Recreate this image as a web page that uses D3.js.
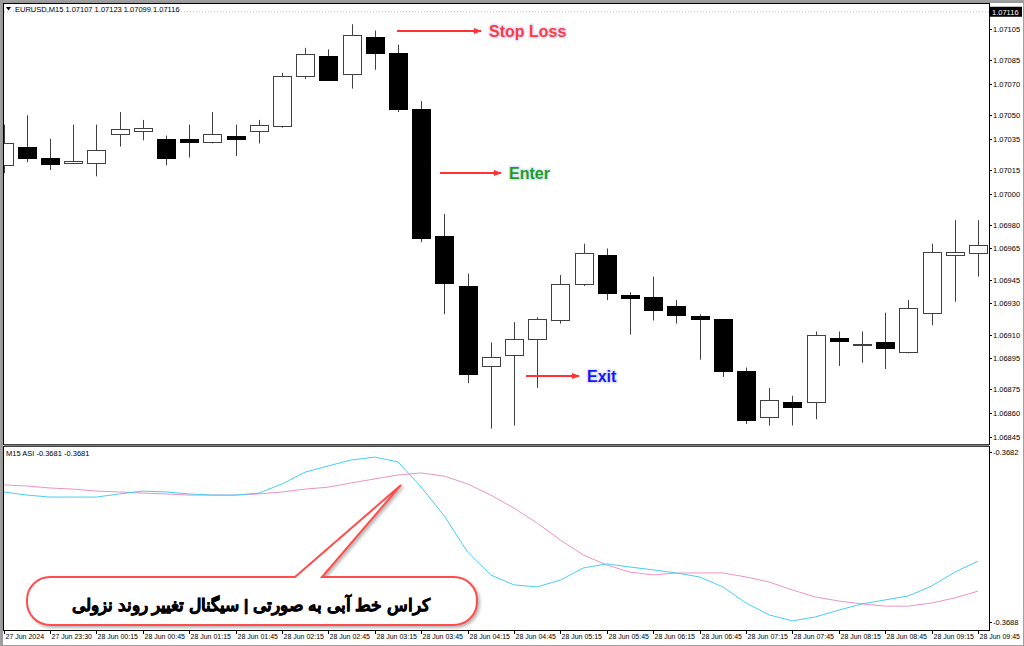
<!DOCTYPE html>
<html>
<head>
<meta charset="utf-8">
<script src="https://cdn.jsdelivr.net/npm/d3@7"></script>
<style>
  body { margin: 0; background: #fff; }
  svg { display: block; }
  text { font-family: "Liberation Sans", Arial, sans-serif; }
</style>
</head>
<body>
<svg width="1024" height="646"></svg>
<script>
// ---- data ----
const openP  = [1.07018,1.07030,1.07023,1.07020,1.07020,1.07038,1.07040,1.07035,1.07035,1.07033,1.07037,1.07040,1.07043,1.07075,1.07088,1.07076,1.07100,1.07090,1.07054,1.06973,1.06941,1.06890,1.06897,1.06907,1.06919,1.06942,1.06961,1.06935,1.06934,1.06928,1.06922,1.06920,1.06887,1.06857,1.06867,1.06867,1.06908,1.06904,1.06905,1.06899,1.06924,1.06961,1.06962];
const highP  = [1.07044,1.07050,1.07035,1.07044,1.07044,1.07052,1.07047,1.07037,1.07044,1.07052,1.07044,1.07047,1.07077,1.07093,1.07092,1.07108,1.07104,1.07095,1.07059,1.06987,1.06949,1.06905,1.06918,1.06921,1.06948,1.06968,1.06965,1.06937,1.06947,1.06932,1.06923,1.06920,1.06889,1.06876,1.06871,1.06912,1.06912,1.06912,1.06924,1.06932,1.06968,1.06983,1.06983];
const lowP   = [1.07013,1.07020,1.07015,1.07019,1.07011,1.07030,1.07034,1.07018,1.07023,1.07032,1.07024,1.07032,1.07042,1.07073,1.07073,1.07067,1.07079,1.07052,1.06969,1.06923,1.06879,1.06850,1.06852,1.06876,1.06917,1.06941,1.06932,1.06910,1.06919,1.06917,1.06894,1.06883,1.06853,1.06852,1.06852,1.06856,1.06890,1.06892,1.06888,1.06898,1.06916,1.06931,1.06947];
const closeP = [1.07032,1.07023,1.07019,1.07021,1.07028,1.07041,1.07042,1.07023,1.07033,1.07038,1.07035,1.07044,1.07075,1.07089,1.07073,1.07101,1.07090,1.07054,1.06972,1.06943,1.06885,1.06896,1.06907,1.06920,1.06942,1.06962,1.06937,1.06933,1.06926,1.06922,1.06920,1.06887,1.06856,1.06868,1.06864,1.06910,1.06906,1.06904,1.06901,1.06927,1.06963,1.06963,1.06967];

const asiBlue = [-0.368341,-0.368352,-0.368359,-0.368359,-0.368359,-0.368348,-0.368338,-0.368341,-0.368348,-0.368352,-0.368352,-0.368345,-0.368313,-0.368271,-0.368249,-0.368228,-0.368218,-0.368235,-0.368324,-0.368426,-0.368553,-0.368634,-0.368669,-0.368676,-0.368652,-0.368609,-0.368595,-0.368606,-0.368616,-0.368627,-0.368641,-0.368676,-0.368733,-0.368775,-0.368796,-0.368782,-0.368758,-0.368736,-0.368722,-0.368708,-0.368673,-0.368624,-0.368585];
const asiPink = [-0.368316,-0.368320,-0.368327,-0.368331,-0.368338,-0.368341,-0.368345,-0.368348,-0.368352,-0.368352,-0.368352,-0.368348,-0.368341,-0.368331,-0.368324,-0.368309,-0.368295,-0.368281,-0.368274,-0.368285,-0.368313,-0.368352,-0.368398,-0.368451,-0.368511,-0.368564,-0.368599,-0.368624,-0.368634,-0.368627,-0.368627,-0.368627,-0.368641,-0.368659,-0.368687,-0.368712,-0.368726,-0.368736,-0.368744,-0.368744,-0.368733,-0.368715,-0.368691];

const priceTicks = [1.07105,1.07085,1.07070,1.07050,1.07035,1.07015,1.07000,1.06980,1.06965,1.06945,1.06930,1.06910,1.06895,1.06875,1.06860,1.06845];
const asiTicks = [-0.3682, -0.3688];
const timeLabels = ["27 Jun 2024","27 Jun 23:30","28 Jun 00:15","28 Jun 00:45","28 Jun 01:15","28 Jun 01:45","28 Jun 02:15","28 Jun 02:45","28 Jun 03:15","28 Jun 03:45","28 Jun 04:15","28 Jun 04:45","28 Jun 05:15","28 Jun 05:45","28 Jun 06:15","28 Jun 06:45","28 Jun 07:15","28 Jun 07:45","28 Jun 08:15","28 Jun 08:45","28 Jun 09:15","28 Jun 09:45"];
const lastPrice = 1.07116;
const header = "EURUSD,M15  1.07107 1.07123 1.07099 1.07116";
const subHeader = "M15  ASI  -0.3681 -0.3681";
const calloutText = "کراس خط آبی به صورتی | سیگنال تغییر روند نزولی";

// ---- layout ----
const left = 4, right = 989;
const mainTop = 4, mainBottom = 444;
const subTop = 447, subBottom = 630;

const svg = d3.select("svg");

const x = d3.scaleLinear().domain([0, 42]).range([3.6, 978]);
const y = d3.scaleLinear().domain([1.06845, 1.07105]).range([436.5, 29]);
const ySub = d3.scaleLinear().domain([-0.3688, -0.3682]).range([622, 452]);
const bodyW = 18;

const defs = svg.append("defs");
defs.append("clipPath").attr("id", "mainClip")
  .append("rect").attr("x", left).attr("y", mainTop).attr("width", right - left).attr("height", mainBottom - mainTop);
defs.append("clipPath").attr("id", "subClip")
  .append("rect").attr("x", left).attr("y", subTop).attr("width", right - left).attr("height", subBottom - subTop);
defs.append("marker").attr("id", "arrow").attr("viewBox", "0 0 10 10")
  .attr("refX", 9).attr("refY", 5).attr("markerWidth", 4).attr("markerHeight", 4)
  .attr("orient", "auto")
  .append("path").attr("d", "M0,1 L10,5 L0,9 Z").attr("fill", "#ff3333");
const sh = defs.append("filter").attr("id", "shadow").attr("x", "-10%").attr("y", "-30%").attr("width", "120%").attr("height", "160%");
sh.append("feDropShadow").attr("dx", 2).attr("dy", 2).attr("stdDeviation", 1.5).attr("flood-color", "#888").attr("flood-opacity", 0.6);

// outer window frame
svg.append("rect").attr("x", 0.5).attr("y", 0.5).attr("width", 1023).attr("height", 645)
  .attr("fill", "#fff").attr("stroke", "#a0a0a0");
svg.append("line").attr("x1", 0).attr("x2", 1024).attr("y1", 2).attr("y2", 2).attr("stroke", "#9a9a9a").attr("stroke-width", 2);
svg.append("line").attr("x1", 2).attr("x2", 2).attr("y1", 0).attr("y2", 646).attr("stroke", "#9a9a9a").attr("stroke-width", 2);

// panels
svg.append("rect").attr("x", left - 0.5).attr("y", mainTop - 0.5).attr("width", right - left + 1).attr("height", mainBottom - mainTop + 1)
  .attr("fill", "#fff").attr("stroke", "#000");
svg.append("rect").attr("x", left - 0.5).attr("y", subTop - 0.5).attr("width", right - left + 1).attr("height", subBottom - subTop + 1)
  .attr("fill", "#fff").attr("stroke", "#000");
svg.append("line").attr("x1", left).attr("x2", right).attr("y1", 445.5).attr("y2", 445.5).attr("stroke", "#808080").attr("stroke-width", 2);

// current price dotted line
svg.append("line").attr("x1", left).attr("x2", right).attr("y1", y(lastPrice)).attr("y2", y(lastPrice))
  .attr("stroke", "#b8b8c8").attr("stroke-dasharray", "1,2");

// header texts
svg.append("path").attr("d", "M6,7 L11,7 L8.5,10.5 Z").attr("fill", "#000");
svg.append("text").attr("x", 15).attr("y", 12).attr("font-size", 7.5).attr("fill", "#000").text(header);
svg.append("text").attr("x", 6).attr("y", 456).attr("font-size", 7.5).attr("fill", "#000").text(subHeader);

// price axis
const pAxis = svg.append("g");
priceTicks.forEach(function(p) {
  pAxis.append("line").attr("x1", right).attr("x2", right + 3).attr("y1", Math.round(y(p)) + 0.5).attr("y2", Math.round(y(p)) + 0.5).attr("stroke", "#000");
  pAxis.append("text").attr("x", 993).attr("y", y(p) + 3).attr("font-size", 7.5).text(p.toFixed(5));
});
pAxis.append("rect").attr("x", 990).attr("y", y(lastPrice) - 5).attr("width", 32).attr("height", 10).attr("fill", "#000");
pAxis.append("text").attr("x", 992).attr("y", y(lastPrice) + 3).attr("font-size", 7.5).attr("fill", "#fff").text(lastPrice.toFixed(5));

asiTicks.forEach(function(v) {
  pAxis.append("line").attr("x1", right).attr("x2", right + 3).attr("y1", Math.round(ySub(v)) + 0.5).attr("y2", Math.round(ySub(v)) + 0.5).attr("stroke", "#000");
  pAxis.append("text").attr("x", 993).attr("y", ySub(v) + 3).attr("font-size", 7.5).text(v.toFixed(4));
});

// time axis
timeLabels.forEach(function(t, k) {
  const tx = Math.round(x(k * 2)) + 0.5;
  svg.append("line").attr("x1", tx).attr("x2", tx).attr("y1", subBottom).attr("y2", subBottom + 4).attr("stroke", "#000");
  svg.append("text").attr("x", tx + 1).attr("y", 639).attr("font-size", 7).text(t);
});

// candles
const candles = openP.map(function(o, i) {
  return { i: i, o: o, h: highP[i], l: lowP[i], c: closeP[i] };
});
const cg = svg.append("g").attr("clip-path", "url(#mainClip)");
cg.selectAll(".wick").data(candles).enter().append("line")
  .attr("x1", d => Math.round(x(d.i)) + 0.5).attr("x2", d => Math.round(x(d.i)) + 0.5)
  .attr("y1", d => y(d.h)).attr("y2", d => y(d.l))
  .attr("stroke", "#404040").attr("stroke-width", 1);
cg.selectAll(".body").data(candles).enter().append("rect")
  .attr("x", d => Math.round(x(d.i) - bodyW / 2) + 0.5)
  .attr("y", d => Math.round(y(Math.max(d.o, d.c))) + 0.5)
  .attr("width", bodyW)
  .attr("height", d => Math.max(1, Math.round(Math.abs(y(d.o) - y(d.c)))))
  .attr("fill", d => d.c < d.o ? "#000" : "#fff")
  .attr("stroke", d => d.c < d.o ? "#000" : "#404040")
  .attr("stroke-width", 1);

// ASI lines
const sg = svg.append("g").attr("clip-path", "url(#subClip)");
const line = d3.line().x((d, i) => x(i)).y(d => ySub(d));
sg.append("path").datum(asiPink).attr("d", line).attr("fill", "none").attr("stroke", "#ec93c6").attr("stroke-width", 1);
sg.append("path").datum(asiBlue).attr("d", line).attr("fill", "none").attr("stroke", "#49cdf5").attr("stroke-width", 1);

// annotations
function note(x1, x2, yy, label, color) {
  svg.append("line").attr("x1", x1).attr("x2", x2).attr("y1", yy).attr("y2", yy)
    .attr("stroke", "#ff3333").attr("stroke-width", 2).attr("marker-end", "url(#arrow)");
  svg.append("text").attr("x", x2 + 8).attr("y", yy + 6)
    .attr("font-size", 16).attr("font-weight", "bold").attr("fill", color)
    .attr("stroke", "#e4e6ff").attr("stroke-width", 3).attr("paint-order", "stroke")
    .attr("stroke-linejoin", "round").text(label);
}
note(397, 481, 31, "Stop Loss", "#ff3b3b");
note(440, 501, 173, "Enter", "#18a018");
note(526, 579, 376, "Exit", "#1414ff");

// callout bubble
const bx = 27, by = 577, bw = 450, bh = 48, r = 23;
const px1 = 295, px2 = 322, tipX = 401, tipY = 485;
const bubble = "M" + (bx + r) + "," + by +
  " L" + px1 + "," + by + " L" + tipX + "," + tipY + " L" + px2 + "," + by +
  " L" + (bx + bw - r) + "," + by +
  " A" + r + "," + r + " 0 0 1 " + (bx + bw) + "," + (by + r) +
  " L" + (bx + bw) + "," + (by + bh - r) +
  " A" + r + "," + r + " 0 0 1 " + (bx + bw - r) + "," + (by + bh) +
  " L" + (bx + r) + "," + (by + bh) +
  " A" + r + "," + r + " 0 0 1 " + bx + "," + (by + bh - r) +
  " L" + bx + "," + (by + r) +
  " A" + r + "," + r + " 0 0 1 " + (bx + r) + "," + by + " Z";
svg.append("path").attr("d", bubble).attr("fill", "#fff").attr("stroke", "#ff4d4d").attr("stroke-width", 2)
  .attr("filter", "url(#shadow)");
svg.append("text").attr("x", 251).attr("y", 611).attr("text-anchor", "middle")
  .attr("direction", "rtl").attr("font-family", "DejaVu Sans, sans-serif")
  .attr("font-size", 17).attr("font-weight", "bold").attr("fill", "#000")
  .attr("stroke", "#000").attr("stroke-width", 0.6).text(calloutText);
</script>
</body>
</html>
